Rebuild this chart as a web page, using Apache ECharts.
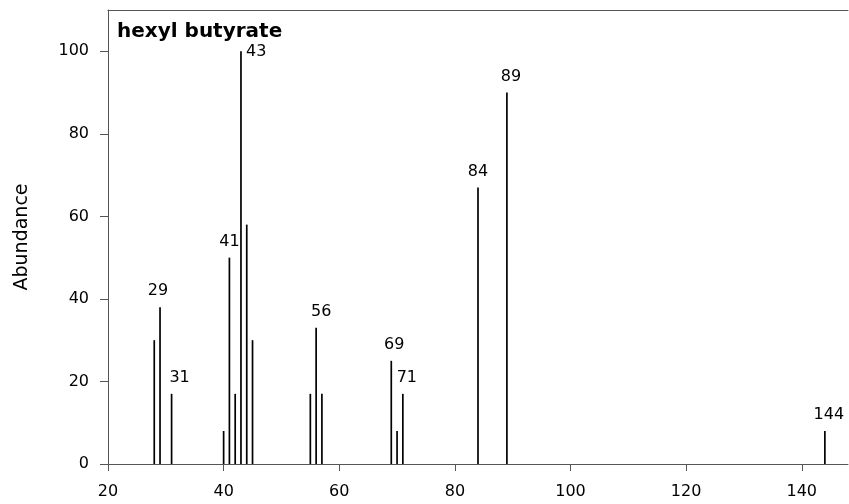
<!DOCTYPE html>
<html><head><meta charset="utf-8">
<script src="https://cdn.jsdelivr.net/npm/echarts@6/dist/echarts.min.js"></script>
<style>html,body{margin:0;padding:0;background:#fff}#c{width:849px;height:504px}</style>
</head><body><div id="c"></div>
<script>
// m/z values and relative abundance of each peak
const massToCharge = [28, 29, 31, 40, 41, 42, 43, 44, 45, 55, 56, 57, 69, 70, 71, 84, 89, 144];
const abundance    = [30, 38, 17,  8, 50, 17, 100, 58, 30, 17, 33, 17, 25,  8, 17, 67, 90,  8];
const labeledPeaks = [29, 31, 41, 43, 56, 69, 71, 84, 89, 144];
const xTicks = [20, 40, 60, 80, 100, 120, 140];
const yTicks = [0, 20, 40, 60, 80, 100];
const chartTitle = 'hexyl butyrate';
const yAxisTitle = 'Abundance';

// label placement tweaks (styling only)
const labelShift = {29: -2, 31: 8, 56: 5, 69: 3, 71: 4, 89: 4, 144: 4};
const FONT = '"DejaVu Sans", "Liberation Sans", sans-serif';
const AXIS_COLOR = '#555';

const chart = echarts.init(document.getElementById('c'), null, {renderer: 'canvas'});
const data = massToCharge.map((m, i) => [m, abundance[i]]);

chart.setOption({
  animation: false,
  backgroundColor: '#fff',
  title: {
    text: chartTitle, left: 117, top: 22, padding: 0,
    textStyle: {fontFamily: FONT, fontSize: 20, fontWeight: 'bold', color: '#000'}
  },
  grid: {left: 108, right: 1, top: 10, bottom: 40, containLabel: false},
  xAxis: [{
    type: 'value', min: 20, max: 148,
    axisLine: {show: true, lineStyle: {color: AXIS_COLOR, width: 1}},
    axisTick: {show: true, length: 7, customValues: xTicks, lineStyle: {color: AXIS_COLOR}},
    axisLabel: {customValues: xTicks, margin: 20, fontFamily: FONT, fontSize: 16, color: '#000'},
    splitLine: {show: false}
  }, {
    type: 'value', min: 20, max: 148, position: 'top',
    axisLine: {show: true, onZero: false, lineStyle: {color: AXIS_COLOR, width: 1}},
    axisTick: {show: false}, axisLabel: {show: false}, splitLine: {show: false}
  }],
  yAxis: {
    type: 'value', min: 0, max: 110,
    name: yAxisTitle, nameLocation: 'middle', nameRotate: 90, nameGap: 76,
    nameTextStyle: {fontFamily: FONT, fontSize: 19, color: '#000'},
    axisLine: {show: true, lineStyle: {color: AXIS_COLOR, width: 1}},
    axisTick: {show: true, length: 8, customValues: yTicks, lineStyle: {color: AXIS_COLOR}},
    axisLabel: {customValues: yTicks, margin: 19, fontFamily: FONT, fontSize: 16, color: '#000'},
    splitLine: {show: false}
  },
  series: [{
    type: 'custom',
    xAxisIndex: 0, yAxisIndex: 0,
    data: data,
    clip: false,
    renderItem: function (params, api) {
      const m = api.value(0), v = api.value(1);
      const top = api.coord([m, v]);
      const base = api.coord([m, 0]);
      const children = [{
        type: 'line',
        shape: {x1: top[0], y1: base[1], x2: top[0], y2: top[1]},
        style: {stroke: '#000', lineWidth: 1.7}
      }];
      if (labeledPeaks.indexOf(m) >= 0) {
        if (m === 43) {
          children.push({type: 'text', style: {
            text: String(m), x: top[0] + 5, y: top[1] + 1,
            align: 'left', verticalAlign: 'middle',
            fontFamily: FONT, fontSize: 16, fill: '#000'}});
        } else {
          children.push({type: 'text', style: {
            text: String(m), x: top[0] + (labelShift[m] || 0), y: top[1] - 8,
            align: 'center', verticalAlign: 'bottom',
            fontFamily: FONT, fontSize: 16, fill: '#000'}});
        }
      }
      return {type: 'group', children: children};
    }
  }]
});
</script>
</body></html>
